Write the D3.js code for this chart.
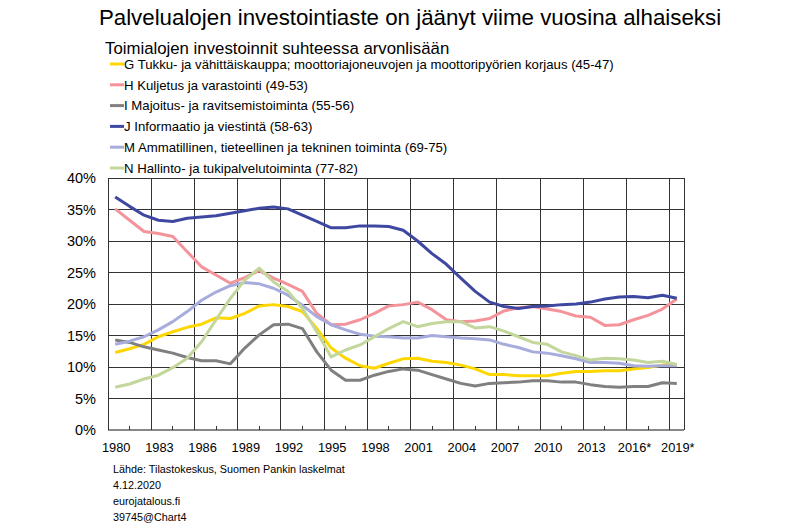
<!DOCTYPE html>
<html><head><meta charset="utf-8">
<script src="https://cdn.jsdelivr.net/npm/d3@7"></script>
<style>body{margin:0;background:#fff;} text{font-family:"Liberation Sans",Arial,sans-serif;}</style>
</head><body><svg id="c" width="800" height="523"></svg>
<script>
const years = d3.range(1980, 2020);
const seriesNames = [
  "G Tukku- ja vähittäiskauppa; moottoriajoneuvojen ja moottoripyörien korjaus (45-47)",
  "H Kuljetus ja varastointi (49-53)",
  "I Majoitus- ja ravitsemistoiminta (55-56)",
  "J Informaatio ja viestintä (58-63)",
  "M Ammatillinen, tieteellinen ja tekninen toiminta (69-75)",
  "N Hallinto- ja tukipalvelutoiminta (77-82)"
];
const seriesColors = ["#FFD700", "#F4939A", "#808080", "#3F48A0", "#A7ACDC", "#C3D69B"];
const G = [12.3,12.9,13.6,14.8,15.6,16.3,16.8,17.8,17.7,18.5,19.7,19.9,19.6,18.8,16.1,13.0,11.4,10.2,9.8,10.6,11.3,11.4,10.9,10.7,10.3,9.7,8.8,8.8,8.6,8.6,8.6,9.0,9.3,9.3,9.4,9.4,9.7,9.9,10.3,10.4];
const H = [35.1,33.3,31.5,31.2,30.7,28.3,25.9,24.6,23.3,24.2,25.3,24.1,23.1,22.0,18.5,16.7,16.8,17.5,18.5,19.7,19.9,20.3,19.1,17.5,17.2,17.3,17.7,18.9,19.4,19.6,19.2,18.8,18.1,17.9,16.6,16.7,17.5,18.2,19.2,20.8];
const I = [14.3,13.9,13.2,12.7,12.2,11.5,11.0,11.0,10.5,13.0,15.1,16.7,16.8,16.1,12.4,9.5,7.9,7.9,8.7,9.3,9.7,9.5,8.8,8.1,7.4,7.0,7.4,7.5,7.6,7.8,7.8,7.6,7.6,7.2,6.9,6.8,6.9,6.9,7.5,7.4];
const J = [37.0,35.5,34.1,33.3,33.1,33.6,33.8,34.0,34.4,34.8,35.2,35.4,35.1,34.1,33.1,32.1,32.1,32.4,32.4,32.3,31.7,30.0,28.0,26.3,24.1,22.0,20.3,19.6,19.3,19.6,19.7,19.9,20.0,20.3,20.8,21.1,21.2,21.0,21.4,20.9];
const M = [13.6,14.1,14.8,15.9,17.2,18.8,20.6,21.9,22.9,23.4,23.2,22.5,21.4,19.8,18.0,16.7,15.9,15.2,14.9,14.8,14.6,14.6,15.0,14.8,14.6,14.5,14.3,13.6,13.1,12.4,12.2,11.8,11.3,10.7,10.7,10.6,10.2,10.1,10.2,10.2];
const N = [6.8,7.3,8.1,8.7,9.9,11.4,14.0,17.5,20.9,23.8,25.7,23.5,22.0,19.3,15.6,11.6,12.7,13.5,14.8,16.1,17.2,16.4,16.9,17.2,17.2,16.2,16.4,15.7,14.8,13.9,13.6,12.4,11.8,11.1,11.4,11.3,11.1,10.7,10.9,10.4];
const seriesValues = [G, H, I, J, M, N];
const yTicks = [0,5,10,15,20,25,30,35,40];
const xTickYears = d3.range(1980, 2020, 3);
const xTickLabels = ["1980","1983","1986","1989","1992","1995","1998","2001","2004","2007","2010","2013","2016*","2019*"];
const title = "Palvelualojen investointiaste on jäänyt viime vuosina alhaiseksi";
const subtitle = "Toimialojen investoinnit suhteessa arvonlisään";
const footer = ["Lähde: Tilastokeskus, Suomen Pankin laskelmat","4.12.2020","eurojatalous.fi","39745@Chart4"];

const svg = d3.select("#c");
const L = 108, R = 684, T = 178, B = 430;
const x = d3.scaleBand().domain(years).range([L, R]).padding(0);
const bw = x.bandwidth();
const y = d3.scaleLinear().domain([0, 40]).range([B, T]);

svg.append("text").attr("x", 410).attr("y", 25).attr("text-anchor", "middle")
  .attr("font-size", 22.3).attr("fill", "#000").text(title);
svg.append("text").attr("x", 105).attr("y", 54).attr("font-size", 16.8).attr("fill", "#000").text(subtitle);

// legend
const lg = svg.append("g");
seriesNames.forEach((n, i) => {
  const yy = 64 + i * 20.8;
  lg.append("line").attr("x1", 110).attr("x2", 124).attr("y1", yy).attr("y2", yy)
    .attr("stroke", seriesColors[i]).attr("stroke-width", 3);
  lg.append("text").attr("x", 124).attr("y", yy + 4.8).attr("font-size", 13.2).attr("fill", "#000").text(n);
});

// gridlines
const grid = svg.append("g").attr("stroke", "#333").attr("stroke-width", 1).attr("shape-rendering", "crispEdges");
yTicks.forEach(t => {
  grid.append("line").attr("x1", L).attr("x2", R).attr("y1", y(t)).attr("y2", y(t))
    .attr("stroke", t === 0 ? "#888" : "#333").attr("stroke-width", t === 0 ? 1.5 : 1);
});
years.filter(yr => yr > 1980 && (yr - 1980) % 3 === 0).forEach(yr => {
  grid.append("line").attr("x1", x(yr)).attr("x2", x(yr)).attr("y1", T).attr("y2", B);
});
grid.append("line").attr("x1", L).attr("x2", L).attr("y1", T).attr("y2", B);
grid.append("line").attr("x1", R).attr("x2", R).attr("y1", T).attr("y2", B);
// small ticks
years.filter(yr => (yr - 1981) % 3 === 0).forEach(yr => {
  grid.append("line").attr("x1", x(yr) + bw / 2).attr("x2", x(yr) + bw / 2).attr("y1", B - 4).attr("y2", B);
});

// y labels
yTicks.forEach(t => {
  svg.append("text").attr("x", 96).attr("y", y(t) + 5).attr("text-anchor", "end")
    .attr("font-size", 14.5).attr("fill", "#000").text(t + "%");
});
// x labels
xTickYears.forEach((yr, i) => {
  svg.append("text").attr("x", x(yr) + bw / 2 + 1).attr("y", 452).attr("text-anchor", "middle")
    .attr("font-size", 12.8).attr("fill", "#000").text(xTickLabels[i]);
});

// lines
const line = d3.line().x((d, i) => x(years[i]) + bw / 2).y(d => y(d));
seriesValues.forEach((vals, i) => {
  svg.append("path").datum(vals).attr("d", line).attr("fill", "none")
    .attr("stroke", seriesColors[i]).attr("stroke-width", 3).attr("stroke-linejoin", "round");
});

footer.forEach((t, i) => {
  svg.append("text").attr("x", 113).attr("y", 473 + i * 16).attr("font-size", 10.8).attr("fill", "#000").text(t);
});
</script></body></html>
